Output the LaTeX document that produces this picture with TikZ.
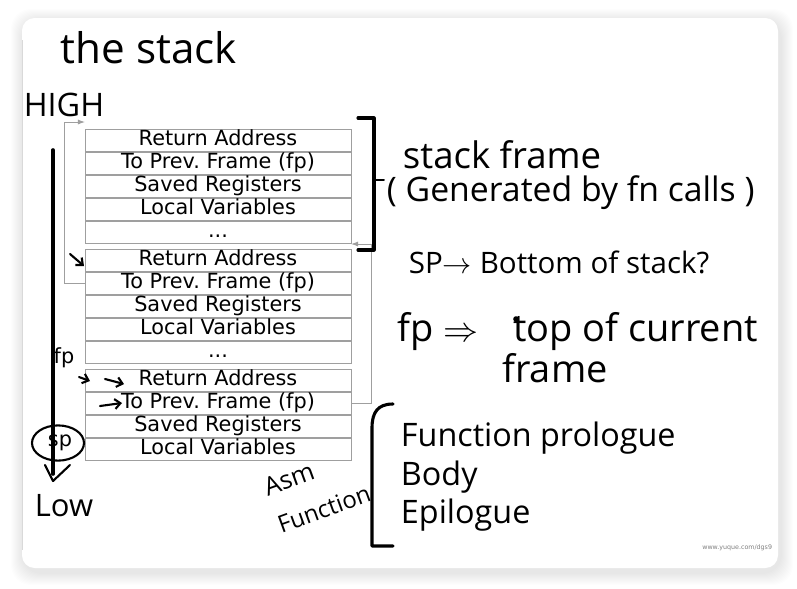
\documentclass[tikz,border=0pt]{standalone}
\usepackage{fontspec}
\setmainfont{DejaVu Sans}
\newfontfamily\handfont{Open Sans}
\usetikzlibrary{arrows.meta,positioning,calc}

\begin{document}
\begin{tikzpicture}[x=0.025cm,y=-0.025cm,>=Latex,
  slot/.style={draw=gray!75,rectangle,minimum width=6.65cm,minimum height=0.56cm,inner sep=0pt,
    text height=10.8pt,text depth=2.6pt,font=\fontsize{14.8}{15}\selectfont},
  link/.style={->,gray!75,semithick,>={Latex[length=5pt,width=3.5pt]}},
  pen/.style={line width=2.2pt,line cap=round,line join=round},
  barb/.style={pen,line width=1.5pt,-{Straight Barb[length=4pt,width=7pt]}},
  hand/.style={font=\handfont\fontsize{#1}{#1}\selectfont}]
  % card and its shadow
  \useasboundingbox (0,0) rectangle (797,588);
  \fill[white] (0,0) rectangle (797,588);
  \foreach \i in {1,...,12}
    \fill[black,opacity=0.007,rounded corners=14pt] (23-\i,21-\i) rectangle (781+\i,573+\i);
  \fill[white,rounded corners=9pt] (22,18) rectangle (778,568);
  \draw[gray!30] (22.5,40) -- (22.5,550);

  % frame 1
  \node[slot] (r1ret) at (218,140.2) {Return Address};
  \node[slot,below=0pt of r1ret] (r1prev) {To Prev.\ Frame (fp)};
  \node[slot,below=0pt of r1prev] (r1saved) {Saved Registers};
  \node[slot,below=0pt of r1saved] (r1local) {Local Variables};
  \node[slot,below=0pt of r1local] (r1more) {...};
  % frame 2
  \node[slot] (r2ret) at (218,260.2) {Return Address};
  \node[slot,below=0pt of r2ret] (r2prev) {To Prev.\ Frame (fp)};
  \node[slot,below=0pt of r2prev] (r2saved) {Saved Registers};
  \node[slot,below=0pt of r2saved] (r2local) {Local Variables};
  \node[slot,below=0pt of r2local] (r2more) {...};
  % frame 3
  \node[slot] (r3ret) at (218,380.2) {Return Address};
  \node[slot,below=0pt of r3ret] (r3prev) {To Prev.\ Frame (fp)};
  \node[slot,below=0pt of r3prev] (r3saved) {Saved Registers};
  \node[slot,below=0pt of r3saved] (r3local) {Local Variables};

  % saved frame pointers
  \coordinate (in1) at (85,122);
  \coordinate (in2) at (351,244);
  \draw[link] (r2prev.west) -- ++(-20,0) |- (in1);
  \draw[link] (r3prev.east) -- ++(20,0) |- (in2);

  % growth direction
  \node[hand=23] (high) at (64,105) {HIGH};
  \node[hand=22] (low) at (64,506) {Low};
  \coordinate (top) at (53,150);
  \coordinate (bot) at (53,474);
  \draw[pen,line width=2.6pt] (top) -- (bot);
  \draw[pen,line width=1.5pt] (45,465) -- (53,481) -- (70,465);
  \node[font=\fontsize{14.8}{15}\selectfont] (sp) at (60,443) {sp};
  \draw[pen,line width=1.5pt] (58,443) ellipse [x radius=0.65cm,y radius=0.44cm];
  \node[font=\fontsize{14.8}{15}\selectfont] (fp) at (64,358) {fp};
  \draw[barb] (70,254) -- (84,266);
  \draw[barb] (79,377) -- (90,381);
  \draw[barb] (105,379) -- (124,384);
  \draw[barb] (100,406) -- (122,403);

  % notes
  \node[hand=30,anchor=west] (title) at (56,48) {the stack};
  \draw[pen] (358,118) -- (374,118) -- (374,250) -- (358,250);
  \draw[pen,line width=1.4pt] (374,180) -- (384,180);
  \node[hand=26,anchor=west] (sf) at (398,155) {stack frame};
  \node[hand=24,anchor=west] (gen) at (382,193) {( Generated by fn calls )};
  \node[hand=21,anchor=west] (spnote) at (404,262) {SP$\rightarrow$ Bottom of stack?};
  \node[hand=27,anchor=west] (fpnote) at (393,332)
    {fp $\Rightarrow$\hspace{0.9em}top of current};
  \fill (516,319) circle[radius=2pt];
  \node[hand=27] (fpnote2) at (555,368) {frame};
  \draw[pen] (393,404) .. controls (378,404) and (372,412) .. (372,428) -- (372,546) -- (393,546);
  \node[hand=23,anchor=west] (pro) at (396,438) {Function prologue};
  \node[hand=23,anchor=west] (body) at (396,477) {Body};
  \node[hand=23,anchor=west] (epi) at (396,515) {Epilogue};
  \node[hand=18,rotate=20,inner sep=0pt] (asm1) at (289,479) {Asm};
  \node[hand=17,rotate=20,inner sep=0pt] (asm2) at (324,509) {Function};
  \node[gray,font=\fontsize{4.5}{5}\selectfont,anchor=east] (wm) at (777,548) {www.yuque.com/dgs9};
\end{tikzpicture}
\end{document}
